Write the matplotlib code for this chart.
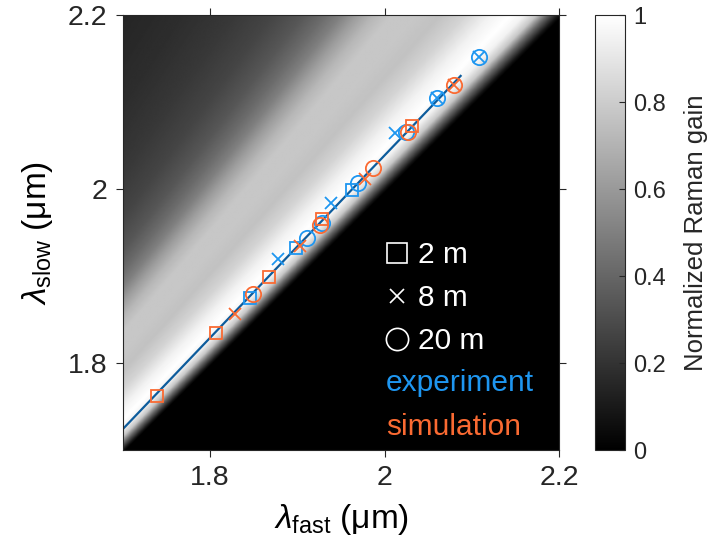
import numpy as np
import matplotlib
matplotlib.use('Agg')
import matplotlib.pyplot as plt
from matplotlib.lines import Line2D

plt.rcParams['font.family'] = 'Liberation Sans'
plt.rcParams['mathtext.fontset'] = 'custom'
plt.rcParams['mathtext.rm'] = 'Liberation Sans'
plt.rcParams['mathtext.it'] = 'Liberation Sans:italic'

# normalized Raman gain vs frequency shift (THz)
shift_thz = [-0.3, 0, 0.8, 1.6, 2.5, 3.5, 5, 7, 9, 11, 13, 14.5, 16, 17.5, 19, 21, 24, 28, 33, 41]
gain_norm = [0, 0.08, 0.4, 0.78, 0.95, 1.0, 0.95, 0.83, 0.76, 0.78, 0.78, 0.72, 0.62, 0.5, 0.42, 0.34, 0.27, 0.22, 0.18, 0.14]

# experiment (blue)
exp_sq_fast = [1.846, 1.898, 1.963]
exp_sq_slow = [1.875, 1.932, 1.999]
exp_x_fast = [1.878, 1.938, 2.012, 2.060, 2.108]
exp_x_slow = [1.919, 1.984, 2.064, 2.105, 2.152]
exp_o_fast = [1.911, 1.928, 1.970, 2.024, 2.060, 2.108]
exp_o_slow = [1.944, 1.961, 2.007, 2.065, 2.105, 2.152]

# simulation (orange)
sim_sq_fast = [1.739, 1.807, 1.868, 1.928, 2.031]
sim_sq_slow = [1.762, 1.835, 1.899, 1.965, 2.072]
sim_x_fast = [1.829, 1.903, 1.978, 2.079]
sim_x_slow = [1.856, 1.934, 2.011, 2.120]
sim_o_fast = [1.849, 1.926, 1.987, 2.027, 2.079]
sim_o_slow = [1.879, 1.959, 2.024, 2.065, 2.120]

# phase matching curve
pm_fast = [1.699, 1.90, 2.087]
pm_slow = [1.723, 1.934, 2.130]

c_blue = '#1e96f0'
c_orange = '#fa6a32'
c_line = '#0d5c9c'

fig = plt.figure(figsize=(7.16, 5.56), dpi=100)
ax = fig.add_axes([0.1715, 0.1906, 0.6096, 0.7824])
cax = fig.add_axes([0.831, 0.1906, 0.0419, 0.7824])

lf = np.linspace(1.7, 2.2, 500)
LF, LS = np.meshgrid(lf, lf)
dnu = 299.792 * (1 / LF - 1 / LS)
G = np.interp(dnu, shift_thz, gain_norm, left=0, right=gain_norm[-1])
im = ax.imshow(G, extent=[1.7, 2.2, 1.7, 2.2], origin='lower', cmap='gray',
               vmin=0, vmax=1, aspect='auto', interpolation='bilinear')

ax.plot(pm_fast, pm_slow, color=c_line, lw=1.6, zorder=2)

mk = dict(ls='none', mfc='none', mew=1.3, zorder=3)
ax.plot(exp_sq_fast, exp_sq_slow, marker='s', ms=8.5, mec=c_blue, **mk)
ax.plot(exp_x_fast, exp_x_slow, marker='x', ms=8, mec=c_blue, **mk)
ax.plot(exp_o_fast, exp_o_slow, marker='o', ms=11, mec=c_blue, **mk)
ax.plot(sim_sq_fast, sim_sq_slow, marker='s', ms=8.5, mec=c_orange, **mk)
ax.plot(sim_x_fast, sim_x_slow, marker='x', ms=8, mec=c_orange, **mk)
ax.plot(sim_o_fast, sim_o_slow, marker='o', ms=11, mec=c_orange, **mk)

ax.set_xlim(1.7, 2.2)
ax.set_ylim(1.7, 2.2)
ax.set_xticks([1.8, 2.0, 2.2])
ax.set_xticklabels(['1.8', '2', '2.2'])
ax.set_yticks([1.8, 2.0, 2.2])
ax.set_yticklabels(['1.8', '2', '2.2'])
ax.tick_params(direction='out', length=5, width=0.8, labelsize=20.5, colors='#262626',
               top=True, right=True, pad=6)
for s in ax.spines.values():
    s.set_color('#262626')
    s.set_linewidth(0.8)
ax.set_xlabel(r'$\lambda_{\mathrm{fast}}$ (μm)', fontsize=24, labelpad=8)
ax.set_ylabel(r'$\lambda_{\mathrm{slow}}$ (μm)', fontsize=24, labelpad=9)

# legend: marker shapes for fibre lengths, colours as text
hs = [Line2D([], [], ls='none', marker='s', ms=14, mfc='none', mec='white', mew=1.2),
      Line2D([], [], ls='none', marker='x', ms=10.5, mfc='none', mec='white', mew=1.2),
      Line2D([], [], ls='none', marker='o', ms=16, mfc='none', mec='white', mew=1.2)]
leg = ax.legend(hs, ['2 m', '8 m', '20 m'], loc='upper left', bbox_to_anchor=(0.6005, 0.48),
                frameon=False, fontsize=21.5, labelcolor='white', handlelength=0.8,
                handletextpad=0.32, labelspacing=0.5, borderpad=0, borderaxespad=0)
ax.text(0.603, 0.154, 'experiment', color=c_blue, fontsize=21.5, transform=ax.transAxes,
        va='center', ha='left')
ax.text(0.603, 0.053, 'simulation', color=c_orange, fontsize=21.5, transform=ax.transAxes,
        va='center', ha='left')

cb = fig.colorbar(im, cax=cax)
cb.set_ticks([0, 0.2, 0.4, 0.6, 0.8, 1])
cb.set_ticklabels(['0', '0.2', '0.4', '0.6', '0.8', '1'])
cax.tick_params(direction='in', length=4, width=0.8, labelsize=17, colors='#262626', pad=6)
cb.outline.set_edgecolor('#262626')
cb.outline.set_linewidth(0.8)
cb.set_label('Normalized Raman gain', fontsize=18.5, color='#262626', labelpad=13)

fig.savefig('out.png', dpi=100)
